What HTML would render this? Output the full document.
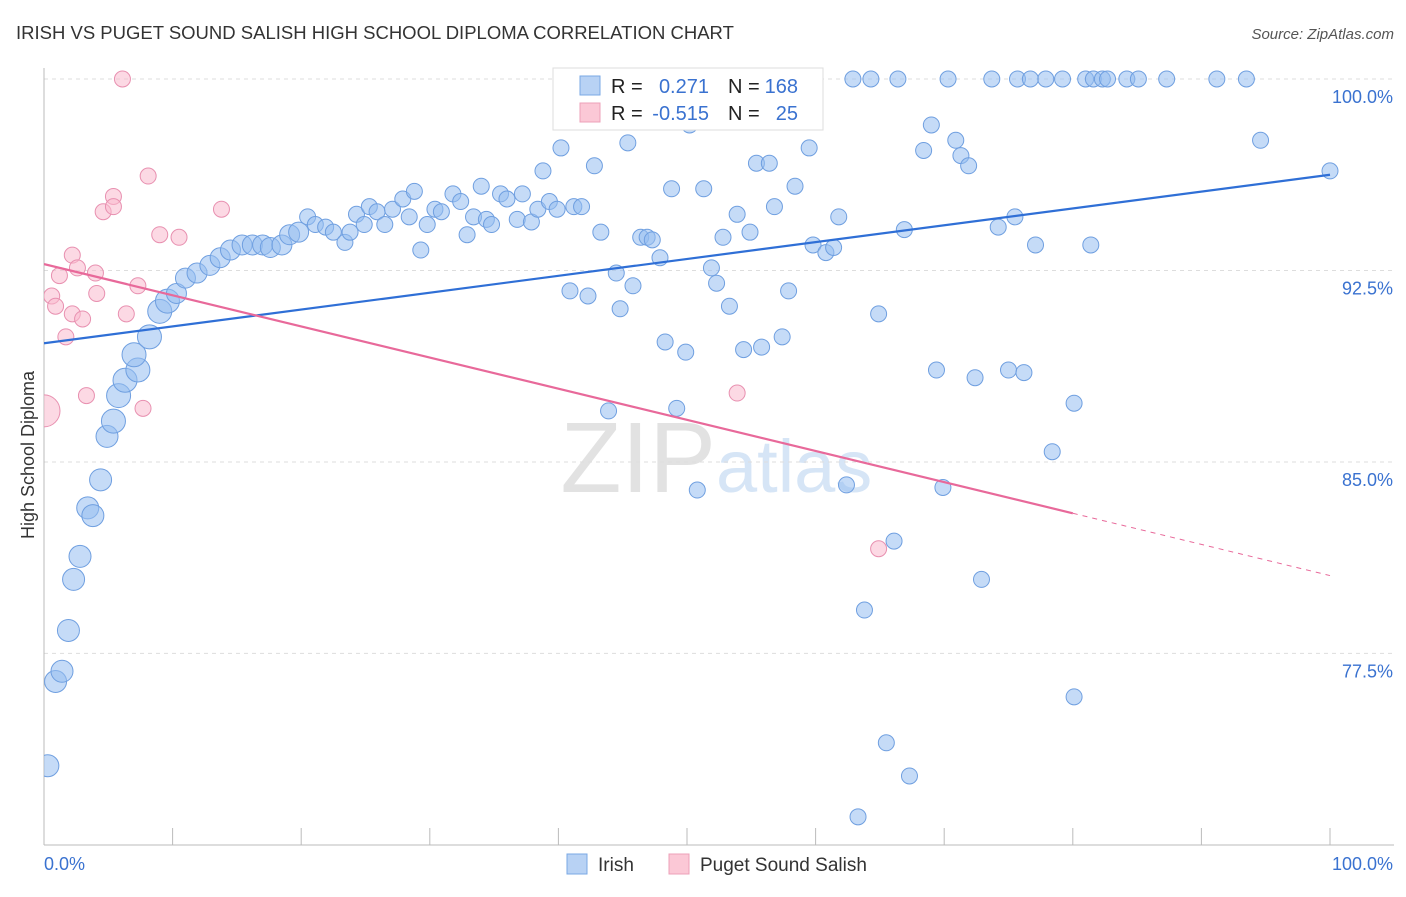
<!DOCTYPE html>
<html><head><meta charset="utf-8"><style>
body{margin:0;background:#fff;font-family:"Liberation Sans",sans-serif}
svg text{font-family:"Liberation Sans",sans-serif}
</style></head><body>
<svg id="chart" width="1406" height="892">
<defs><clipPath id="plotclip"><rect x="44" y="60" width="1362" height="785"/></clipPath></defs>
<text x="16" y="39" font-size="18.5" fill="#333">IRISH VS PUGET SOUND SALISH HIGH SCHOOL DIPLOMA CORRELATION CHART</text>
<text x="1394" y="39" font-size="15" fill="#555" text-anchor="end" font-style="italic">Source: ZipAtlas.com</text>
<text x="716" y="492" font-size="100" fill="#e2e2e2" text-anchor="end" font-family="Liberation Serif">ZIP</text>
<text x="716" y="492" font-size="74" fill="#d6e5f6">atlas</text>
<text transform="translate(34,455) rotate(-90)" font-size="18" fill="#333" text-anchor="middle">High School Diploma</text>
<g id="grid"></g><g id="marks" clip-path="url(#plotclip)"></g>
<g>
<rect x="553" y="68" width="270" height="62" fill="#fff" stroke="#ddd"/>
<rect x="580" y="76" width="20" height="19" fill="#b8d2f4" stroke="#7aa8e4"/>
<rect x="580" y="103" width="20" height="19" fill="#fbc8d6" stroke="#eca0b8"/>
<text x="611" y="93" font-size="20" fill="#222">R =</text><text x="709" y="93" font-size="20" fill="#3a72d0" text-anchor="end">0.271</text>
<text x="728" y="93" font-size="20" fill="#222">N =</text><text x="798" y="93" font-size="20" fill="#3a72d0" text-anchor="end">168</text>
<text x="611" y="120" font-size="20" fill="#222">R =</text><text x="709" y="120" font-size="20" fill="#3a72d0" text-anchor="end">-0.515</text>
<text x="728" y="120" font-size="20" fill="#222">N =</text><text x="798" y="120" font-size="20" fill="#3a72d0" text-anchor="end">25</text>
</g>
<g>
<rect x="567" y="854" width="20" height="20" fill="#b8d2f4" stroke="#7aa8e4"/>
<text x="598" y="871" font-size="19" fill="#333">Irish</text>
<rect x="669" y="854" width="20" height="20" fill="#fbc8d6" stroke="#eca0b8"/>
<text x="700" y="871" font-size="19" fill="#333">Puget Sound Salish</text>
</g>
</svg>
<script>
const irishX=[0.3,0.9,1.4,1.9,2.3,2.8,3.4,3.8,4.4,4.9,5.4,5.8,6.3,7.3,7.0,8.2,9.0,9.6,10.3,11.0,11.9,12.9,13.7,14.5,15.4,16.2,17.0,17.6,18.5,19.1,19.8,20.5,21.1,21.9,22.5,23.4,23.8,24.3,24.9,25.3,25.9,26.5,27.1,27.9,28.4,28.8,29.3,29.8,30.4,30.9,31.8,32.4,32.9,33.4,34.0,34.4,34.8,35.5,36.0,36.8,37.2,37.9,38.4,38.8,39.3,39.9,40.2,40.9,41.2,41.8,42.3,42.8,43.3,43.9,44.5,44.8,45.4,45.8,46.4,46.9,47.3,47.9,48.3,48.8,49.2,49.9,50.2,50.8,51.3,51.9,52.3,52.8,53.3,53.9,54.4,54.9,55.4,55.8,56.4,56.8,57.4,57.9,58.4,58.8,59.5,59.8,60.8,61.4,61.8,62.4,62.9,63.3,63.8,64.3,64.9,65.5,66.1,66.4,66.9,67.3,68.4,69.0,69.4,69.9,70.3,70.9,71.3,71.9,72.4,72.9,73.7,74.2,75.0,75.5,75.7,76.2,76.7,77.1,77.9,78.4,79.2,80.1,80.1,81.0,81.4,81.6,82.3,82.7,84.2,85.1,87.3,91.2,93.5,94.6,100];
const irishY=[73.1,76.4,76.8,78.4,80.4,81.3,83.2,82.9,84.3,86.0,86.6,87.6,88.2,88.6,89.2,89.9,90.9,91.3,91.6,92.2,92.4,92.7,93.0,93.3,93.5,93.5,93.5,93.4,93.5,93.9,94.0,94.6,94.3,94.2,94.0,93.6,94.0,94.7,94.3,95.0,94.8,94.3,94.9,95.3,94.6,95.6,93.3,94.3,94.9,94.8,95.5,95.2,93.9,94.6,95.8,94.5,94.3,95.5,95.3,94.5,95.5,94.4,94.9,96.4,95.2,94.9,97.3,91.7,95.0,95.0,91.5,96.6,94.0,87.0,92.4,91.0,97.5,91.9,93.8,93.8,93.7,93.0,89.7,95.7,87.1,89.3,98.2,83.9,95.7,92.6,92.0,93.8,91.1,94.7,89.4,94.0,96.7,89.5,96.7,95.0,89.9,91.7,95.8,100,97.3,93.5,93.2,93.4,94.6,84.1,100,71.1,79.2,100,90.8,74.0,81.9,100,94.1,72.7,97.2,98.2,88.6,84.0,100,97.6,97.0,96.6,88.3,80.4,100,94.2,88.6,94.6,100,88.5,100,93.5,100,85.4,100,87.3,75.8,100,93.5,100,100,100,100,100,100,100,100,97.6,96.4];
const salishX=[0,0.6,0.9,1.2,1.7,2.2,2.2,2.6,3.0,3.3,4.0,4.1,4.6,5.4,5.4,6.1,6.4,7.3,7.7,8.1,9.0,10.5,13.8,53.9,64.9];
const salishY=[87.0,91.5,91.1,92.3,89.9,93.1,90.8,92.6,90.6,87.6,92.4,91.6,94.8,95.4,95.0,100,90.8,91.9,87.1,96.2,93.9,93.8,94.9,87.7,81.6];
const yTicks=[100,92.5,85,77.5];
const yTickLabels=["100.0%","92.5%","85.0%","77.5%"];
const irishTrend=[89.65,96.25];
const salishTrend=[92.75,80.55];
const NS="http://www.w3.org/2000/svg";
const X=v=>44+v*12.86, Y=v=>79+(100-v)*25.53;
const grid=document.getElementById('grid'), marks=document.getElementById('marks');
function mk(tag,attrs,parent){const e=document.createElementNS(NS,tag);for(const k in attrs)e.setAttribute(k,attrs[k]);parent.appendChild(e);return e;}
yTicks.forEach((t,i)=>{
 const l=mk('line',{x1:44,x2:1394,y1:Y(t),y2:Y(t),stroke:'#ddd','stroke-dasharray':'4,4'},grid);
 
 
 const tx=mk('text',{x:1393,y:Y(t)+24,'font-size':18,fill:'#3a72d0','text-anchor':'end'},grid);
 tx.textContent=yTickLabels[i];
 
 
});
const ax=mk('line',{x1:44,x2:1394,y1:845,y2:845,stroke:'#bbb'},grid);


const ay=mk('line',{x1:44,x2:44,y1:68,y2:845,stroke:'#bbb'},grid);


for(let i=0;i<=10;i++){const tk=mk('line',{x1:X(i*10),x2:X(i*10),y1:828,y2:845,stroke:'#bbb'},grid);
 
 }
[["0.0%",44,'start'],["100.0%",1393,'end']].forEach(a=>{const t=mk('text',{x:a[1],y:870,'font-size':18,fill:'#3a72d0','text-anchor':a[2]},grid);t.textContent=a[0];
 
 });
irishX.forEach((x,i)=>{const r=x<10?(x<5?11:12):(x<20?10:8);
 const c=mk('circle',{cx:X(x),cy:Y(irishY[i]),r:r,fill:'rgba(150,190,240,0.55)',stroke:'#6f9fe0','stroke-width':1},marks);
 
 });
salishX.forEach((x,i)=>{const r=x===0?16:8;
 const c=mk('circle',{cx:X(x),cy:Y(salishY[i]),r:r,fill:'rgba(250,185,205,0.55)',stroke:'#e890b0','stroke-width':1},marks);
 
 });
const t1=mk('line',{x1:X(0),y1:Y(irishTrend[0]),x2:X(100),y2:Y(irishTrend[1]),stroke:'#2f6fd6','stroke-width':2.2},marks);


const sy=x=>salishTrend[0]+(salishTrend[1]-salishTrend[0])*x/100;
const t2=mk('line',{x1:X(0),y1:Y(sy(0)),x2:X(80),y2:Y(sy(80)),stroke:'#e8699a','stroke-width':2.2},marks);


const t3=mk('line',{x1:X(80),y1:Y(sy(80)),x2:X(100),y2:Y(sy(100)),stroke:'#e8699a','stroke-width':1,'stroke-dasharray':'5,5'},marks);


</script>
</body></html>
